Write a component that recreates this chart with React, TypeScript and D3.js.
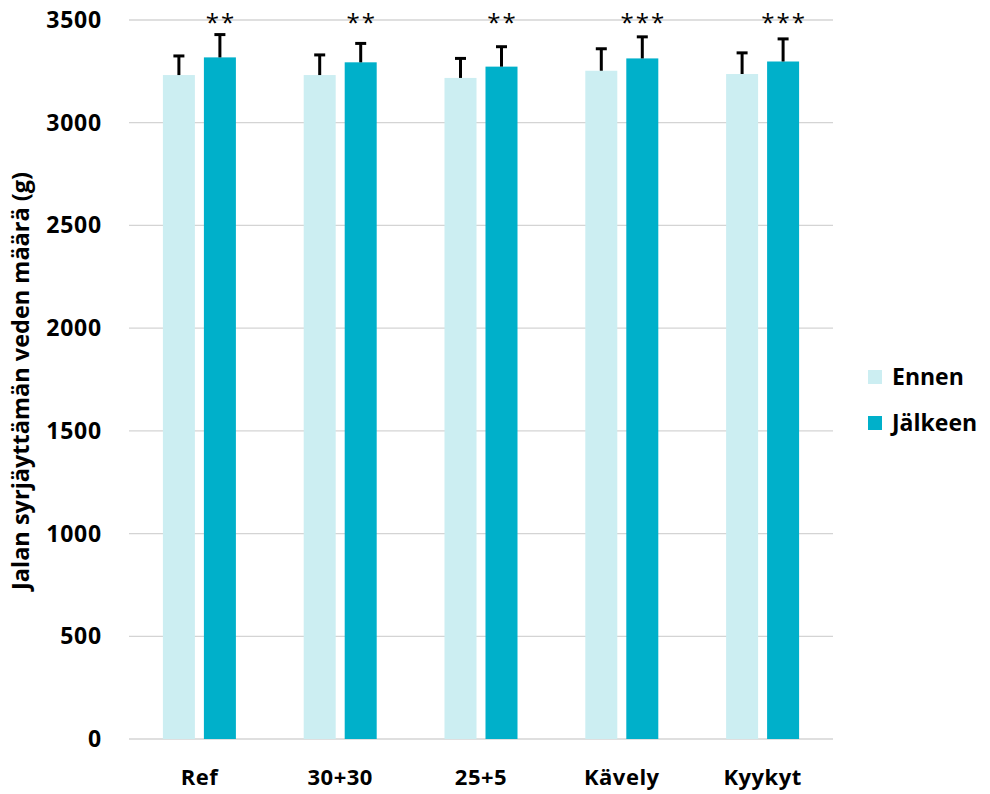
import React from "react";
import * as d3 from "d3";

const categories = ["Ref", "30+30", "25+5", "Kävely", "Kyykyt"];
const seriesNames = ["Ennen", "Jälkeen"];
const ennen = [3232, 3232, 3218, 3253, 3237];
const jalkeen = [3318, 3294, 3273, 3313, 3298];
const ennenErr = [93, 98, 95, 107, 103];
const jalkeenErr = [111, 92, 97, 105, 110];
const stars = ["**", "**", "**", "***", "***"];
const yTicks = [0, 500, 1000, 1500, 2000, 2500, 3000, 3500];
const colors = ["#CCEEF2", "#00B0CA"];

export default function App() {
  const W = 990, H = 794;
  const x0 = 129, x1 = 833, yTop = 20, yBot = 739;
  const x = d3.scaleBand().domain(categories).range([x0, x1]);
  const y = d3.scaleLinear().domain([0, 3500]).range([yBot, yTop]);
  const barW = 32, gap = 9;
  const font = "'Open Sans', 'Liberation Sans', sans-serif";
  const series = [ennen, jalkeen];
  const errs = [ennenErr, jalkeenErr];
  return (
    <svg width={W} height={H} style={{ position: "absolute", left: 0, top: 0, background: "#fff" }} fontFamily={font}>
      {yTicks.map((t) => (
        <g key={t}>
          <line x1={x0} x2={x1} y1={y(t)} y2={y(t)} stroke="#d4d4d4" strokeWidth={1.3} />
          <text x={102} y={y(t)} dy="0.35em" textAnchor="end" fontWeight="bold" fontSize={23} letterSpacing={0.8}>{t}</text>
        </g>
      ))}
      {categories.map((c, i) => {
        const cx = (x(c) as number) + x.bandwidth() / 2;
        return (
          <g key={c}>
            {series.map((s, k) => {
              const bx = k === 0 ? cx - gap / 2 - barW : cx + gap / 2;
              const top = y(s[i]);
              const et = y(s[i] + errs[k][i]);
              const mx = bx + barW / 2;
              return (
                <g key={k}>
                  <rect x={bx} y={top} width={barW} height={yBot - top} fill={colors[k]} />
                  <line x1={mx} x2={mx} y1={top} y2={et} stroke="#000" strokeWidth={3} />
                  <line x1={mx - 5.5} x2={mx + 5.5} y1={et} y2={et} stroke="#000" strokeWidth={3} />
                </g>
              );
            })}
            <text x={cx + gap / 2 + barW / 2 + 1} y={31} textAnchor="middle" fontSize={24} letterSpacing={2}>{stars[i]}</text>
            <text x={cx} y={777} dy="0.35em" textAnchor="middle" fontWeight="bold" fontSize={22} letterSpacing={0.5}>{c}</text>
          </g>
        );
      })}
      <text transform={`translate(21,381) rotate(-90)`} textAnchor="middle" dy="0.35em" fontWeight="bold" fontSize={23.5}>
        Jalan syrjäyttämän veden määrä (g)
      </text>
      {seriesNames.map((n, k) => (
        <g key={n}>
          <rect x={868} y={370 + k * 46} width={14} height={14} fill={colors[k]} />
          <text x={892} y={377 + k * 46} dy="0.35em" fontWeight="bold" fontSize={23}>{n}</text>
        </g>
      ))}
    </svg>
  );
}
